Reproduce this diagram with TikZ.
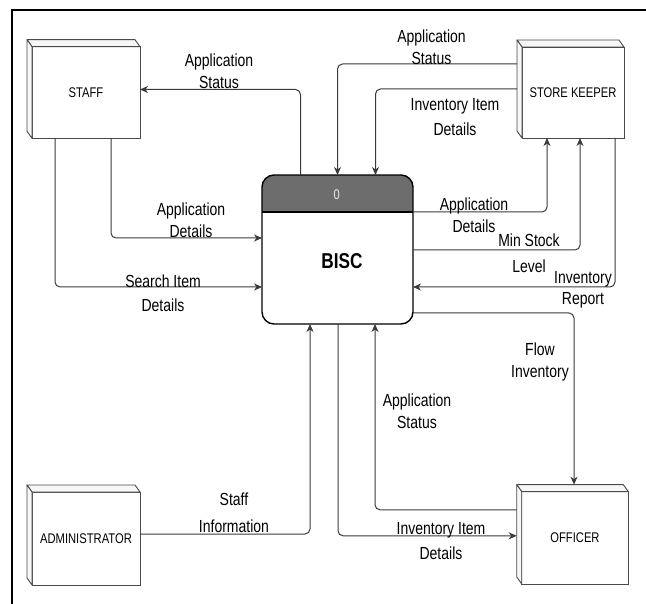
\documentclass[tikz,border=0pt]{standalone}
\usepackage{fontspec}
\setmainfont{Liberation Sans}[FakeStretch=0.8]
\usetikzlibrary{arrows.meta,calc}

\definecolor{linegray}{HTML}{3A3A3A}
\definecolor{edgegray}{HTML}{4A4A4A}
\definecolor{headgray}{HTML}{6D6D6D}
\definecolor{idgray}{HTML}{E8E8E8}

\tikzset{
  entity/.style={rectangle, draw=edgegray, line width=0.9pt, inner sep=0pt, outer sep=0pt,
    font=\fontsize{14}{17}\selectfont},
  face/.style={draw=edgegray, line width=0.9pt, fill=gray!6, line join=round},
  flow/.style={draw=linegray, line width=1pt, rounded corners=5pt,
    -{Stealth[length=8pt,width=7pt,inset=2.5pt]}},
  flowlabel/.style={align=center, inner sep=0pt, font=\fontsize{17.5}{21.5}\selectfont},
  process/.style={rectangle, draw=black, line width=1.4pt, rounded corners=12pt,
    inner sep=0pt, outer sep=0pt,
    path picture={
      \fill[headgray, sharp corners] (path picture bounding box.north west)
        rectangle ([yshift=-37pt]path picture bounding box.north east);
      \draw[black, line width=1.4pt, sharp corners]
        ([yshift=-37pt]path picture bounding box.north west)
        -- ([yshift=-37pt]path picture bounding box.north east);
    }},
}

\begin{document}
\begin{tikzpicture}[x=1pt, y=-1pt]
  \useasboundingbox (0,0) rectangle (646,604);

  % outer frame (left and top edges)
  \draw[line width=2pt, line cap=rect] (12,604) -- (12,10) -- (646,10);

  % central process
  \node[process, minimum width=151pt, minimum height=149pt] (bisc) at (337.5,249.5) {};
  \node[font=\fontsize{14}{17}\selectfont, text=idgray] (bisc-id) at (336.7,195) {0};
  \node[font=\fontsize{21.5}{26}\selectfont\bfseries] (bisc-name) at (342,261) {BISC};

  % external entities (front faces)
  \node[entity, minimum width=108pt, minimum height=91.6pt] (staff) at (86,92.5) {STAFF};
  \node[entity, minimum width=108pt, minimum height=93pt] (admin) at (86,538.5) {ADMINISTRATOR};
  \node[entity, minimum width=102pt, minimum height=91pt] (keeper) at (573,92.5) {STORE KEEPER};
  \node[entity, minimum width=106.6pt, minimum height=92.3pt] (officer) at (575,537.8) {OFFICER};

  % depth faces of the entity boxes
  \foreach \n in {staff,admin,keeper,officer}{
    \filldraw[face] ($(\n.north west)+(-5,-7)$) -- ($(\n.north east)+(-5,-7)$)
      -- (\n.north east) -- (\n.north west) -- cycle;
    \filldraw[face] ($(\n.north west)+(-5,-7)$) -- (\n.north west)
      -- (\n.south west) -- ($(\n.south west)+(-5,-7)$) -- cycle;
  }

  % data flows
  \draw[flow] ([xshift=-37pt]bisc.north) |- ([yshift=3pt]staff.east);
  \draw[flow] ([xshift=25pt]staff.south) |- ([yshift=11.5pt]bisc.west);
  \draw[flow] ([xshift=-31pt]staff.south) |- ([yshift=-37.5pt]bisc.west);
  \draw[flow] ([xshift=-5pt,yshift=28.5pt]keeper.west) -| (bisc.north);
  \draw[flow] ([xshift=-5pt,yshift=3.5pt]keeper.west) -| ([xshift=38pt]bisc.north);
  \draw[flow] ([yshift=-37pt]bisc.north east) -| ([xshift=-26pt]keeper.south);
  \draw[flow] ([yshift=-0.5pt]bisc.east) -| ([xshift=7pt]keeper.south);
  \draw[flow] ([xshift=42pt]keeper.south) |- ([yshift=-37.5pt]bisc.east);
  \draw[flow] ([yshift=-63.5pt]bisc.east) -| ([xshift=-1pt,yshift=7pt]officer.north);
  \draw[flow] ([xshift=-5pt,yshift=28pt]officer.west) -| ([xshift=37.5pt]bisc.south);
  \draw[flow] ([xshift=0.5pt]bisc.south) |- ([xshift=-5pt,yshift=2pt]officer.west);
  \draw[flow] ([yshift=4.5pt]admin.east) -| ([xshift=-27.5pt]bisc.south);

  % flow labels
  \node[flowlabel] (l-status-staff) at (219,71) {Application\\Status};
  \node[flowlabel] (l-details-staff) at (191,220) {Application\\Details};
  \node[flowlabel] (l-search) at (163,293) {Search Item\\[3pt]Details};
  \node[flowlabel] (l-status-keeper) at (431.5,47) {Application\\Status};
  \node[flowlabel] (l-item-keeper) at (455,117) {Inventory Item\\[4pt]Details};
  \node[flowlabel] (l-details-keeper) at (474,215) {Application\\Details};
  \node[flowlabel] (l-minstock) at (529,253) {Min Stock\\[4pt]Level};
  \node[flowlabel] (l-report) at (583,290) {Inventory\\Report};
  \node[flowlabel] (l-flow) at (540,362) {Flow\\Inventory};
  \node[flowlabel] (l-status-officer) at (417,411) {Application\\Status};
  \node[flowlabel] (l-item-officer) at (441,541) {Inventory Item\\[3pt]Details};
  \node[flowlabel] (l-staffinfo) at (234,513) {Staff\\[6pt]Information};
\end{tikzpicture}
\end{document}
